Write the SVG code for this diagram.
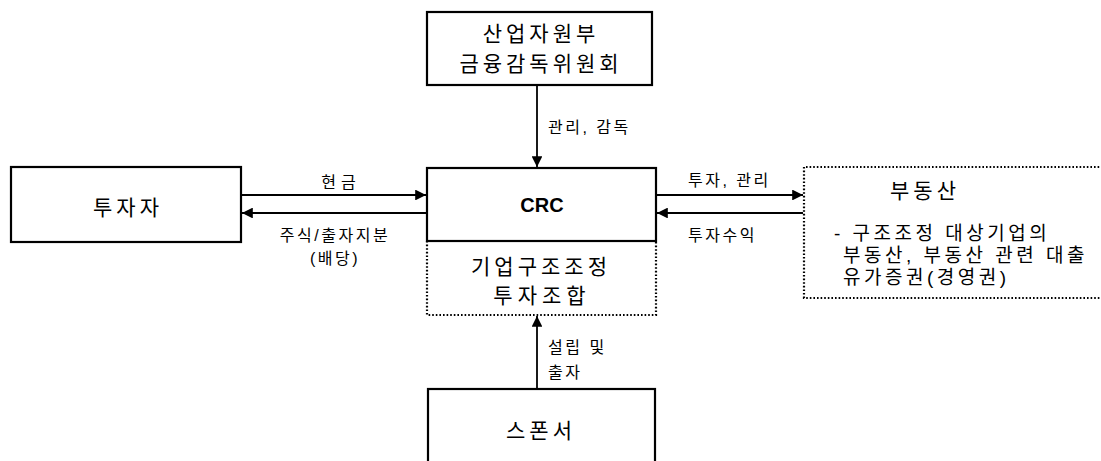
<svg xmlns="http://www.w3.org/2000/svg" width="1101" height="461" viewBox="0 0 1101 461">
<style>
  .box{fill:#fff;stroke:#000;stroke-width:2.2}
  .dot{fill:none;stroke:#000;stroke-width:2.2;stroke-dasharray:1.6 2}
  .ln{stroke:#000;stroke-width:1.8;fill:none}
  text{font-family:"Liberation Sans","Noto Sans CJK KR",sans-serif;fill:#000}
  .big{font-size:21px;letter-spacing:4px}
  .mid{font-size:19px;letter-spacing:3.5px}
  .sm{font-size:16px;letter-spacing:2.5px}
  .crc{font-family:"Liberation Sans",Arial,sans-serif;font-size:20px;font-weight:bold;letter-spacing:0}
</style>
<defs>
  <marker id="ah" viewBox="0 0 10 10" refX="10" refY="5" markerWidth="6.5" markerHeight="6" orient="auto" markerUnits="strokeWidth">
    <path d="M0,0 L10,5 L0,10 Z" fill="#000"/>
  </marker>
</defs>
<rect width="1101" height="461" fill="#fff"/>

<g id="ministry">
  <rect class="box" x="427" y="12" width="225" height="73"/>
  <text class="big" x="541" y="41" text-anchor="middle">산업자원부</text>
  <text class="big" x="541" y="71" text-anchor="middle">금융감독위원회</text>
</g>

<g id="investor">
  <rect class="box" x="11" y="167" width="230" height="75"/>
  <text class="big" x="128" y="215" text-anchor="middle">투자자</text>
</g>

<g id="crc">
  <rect class="box" x="427" y="168" width="229" height="73"/>
  <text class="crc" x="542" y="212" text-anchor="middle">CRC</text>
</g>

<g id="fund">
  <path class="dot" d="M427,241 V315 H656 V241"/>
  <text class="big" x="541" y="274" text-anchor="middle">기업구조조정</text>
  <text class="big" x="542" y="303" text-anchor="middle" style="letter-spacing:5px">투자조합</text>
</g>

<g id="realestate">
  <path class="dot" d="M1110,167 H804 V298 H1110"/>
  <text class="big" x="925" y="198" text-anchor="middle">부동산</text>
  <text class="mid" x="834" y="240">- 구조조정 대상기업의</text>
  <text class="mid" x="843" y="262">부동산, 부동산 관련 대출</text>
  <text class="mid" x="843" y="284">유가증권(경영권)</text>
</g>

<g id="sponsor">
  <rect class="box" x="428" y="389" width="227" height="85"/>
  <text class="big" x="541" y="438" text-anchor="middle">스폰서</text>
</g>

<g id="connectors">
  <line class="ln" x1="537" y1="85" x2="537" y2="167" marker-end="url(#ah)"/>
  <line class="ln" x1="242" y1="195" x2="426" y2="195" marker-end="url(#ah)"/>
  <line class="ln" x1="426" y1="213" x2="242" y2="213" marker-end="url(#ah)"/>
  <line class="ln" x1="657" y1="195" x2="803" y2="195" marker-end="url(#ah)"/>
  <line class="ln" x1="803" y1="213" x2="657" y2="213" marker-end="url(#ah)"/>
  <line class="ln" x1="537" y1="389" x2="537" y2="316" marker-end="url(#ah)"/>
  <text class="sm" x="548" y="133">관리, 감독</text>
  <text class="sm" x="341" y="188" text-anchor="middle" style="letter-spacing:5px">현금</text>
  <text class="sm" x="335" y="241" text-anchor="middle">주식/출자지분</text>
  <text class="sm" x="335" y="264" text-anchor="middle">(배당)</text>
  <text class="sm" x="688" y="186">투자, 관리</text>
  <text class="sm" x="688" y="241">투자수익</text>
  <text class="sm" x="548" y="353">설립 및</text>
  <text class="sm" x="548" y="378">출자</text>
</g>
</svg>
